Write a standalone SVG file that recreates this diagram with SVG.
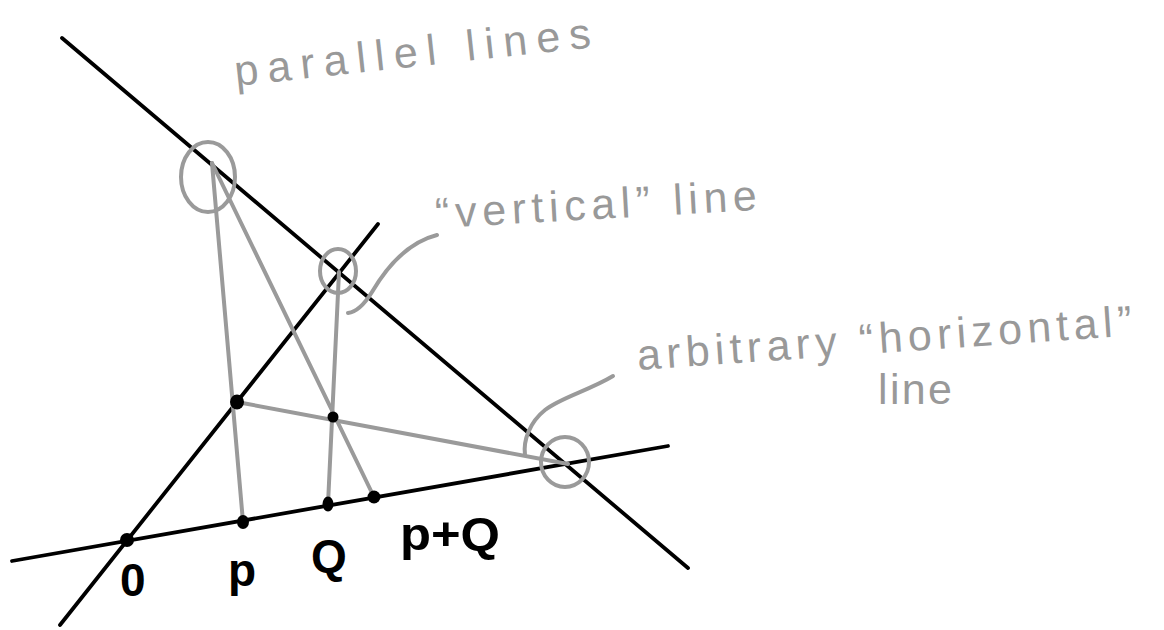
<svg xmlns="http://www.w3.org/2000/svg" width="1164" height="630" viewBox="0 0 1164 630">
  <style>
    .blk { stroke: #000; stroke-width: 3.8; fill: none; stroke-linecap: round; }
    .gry { stroke: #9a9a9a; stroke-width: 4; fill: none; stroke-linecap: round; stroke-linejoin: round; }
    .dot { fill: #000; }
    .note { font-family: "Liberation Sans", "DejaVu Sans", sans-serif; fill: #999; font-size: 43px; }
    .lbl { font-family: "Liberation Sans", "DejaVu Sans", sans-serif; fill: #000; font-size: 46px; font-weight: bold; }
  </style>
  <rect width="1164" height="630" fill="#fff"/>

  <g id="connectors">
    <!-- black lines -->
    <line class="blk" x1="62" y1="38" x2="688" y2="568"/>
    <line class="blk" x1="60" y1="625" x2="378" y2="224"/>
    <line class="blk" x1="12" y1="561" x2="668" y2="446"/>
    <!-- gray construction lines -->
    <line class="gry" x1="212" y1="163" x2="243" y2="522"/>
    <line class="gry" x1="212" y1="163" x2="374" y2="497"/>
    <line class="gry" x1="339" y1="272" x2="328" y2="504"/>
    <line class="gry" x1="237" y1="402" x2="568" y2="464"/>
    <!-- leaders -->
    <path class="gry" d="M437,235 C405,243 385,270 372,292 C364,305 356,312 348,313"/>
    <path class="gry" d="M613,376 C590,390 560,398 545,410 C530,422 523,440 525,455"/>
  </g>

  <g id="circle-top">
    <ellipse class="gry" cx="208" cy="177" rx="27" ry="35"/>
  </g>
  <g id="circle-mid">
    <ellipse class="gry" cx="338" cy="271" rx="18" ry="22"/>
  </g>
  <g id="circle-right">
    <ellipse class="gry" cx="565" cy="462" rx="24" ry="25"/>
  </g>

  <g id="point-a"><ellipse class="dot" cx="237" cy="402" rx="7" ry="7.5"/></g>
  <g id="point-b"><ellipse class="dot" cx="333" cy="417" rx="5.5" ry="5.5"/></g>
  <g id="point-O"><ellipse class="dot" cx="127" cy="540" rx="7" ry="7"/>
    <text class="lbl" x="120" y="596">0</text></g>
  <g id="point-p"><ellipse class="dot" cx="243" cy="522" rx="6" ry="7"/>
    <text class="lbl" x="228" y="586">p</text></g>
  <g id="point-Q"><ellipse class="dot" cx="328" cy="504" rx="5.5" ry="7.5"/>
    <text class="lbl" x="311" y="572">Q</text></g>
  <g id="point-pQ"><ellipse class="dot" cx="374" cy="497" rx="6.5" ry="6.5"/>
    <text class="lbl" x="400" y="550" textLength="100" lengthAdjust="spacingAndGlyphs">p+Q</text></g>

  <g id="note-parallel">
    <text class="note" x="236" y="86" transform="rotate(-6.2 236 86)" textLength="358" lengthAdjust="spacing">parallel lines</text>
  </g>
  <g id="note-vertical">
    <text class="note" x="436" y="228" transform="rotate(-3.2 436 228)" textLength="322" lengthAdjust="spacing">“vertical” line</text>
  </g>
  <g id="note-horizontal">
    <text class="note" x="638" y="370" transform="rotate(-4 638 370)" textLength="496" lengthAdjust="spacing">arbitrary “horizontal”</text>
    <text class="note" x="878" y="404" textLength="74" lengthAdjust="spacing">line</text>
  </g>
</svg>
